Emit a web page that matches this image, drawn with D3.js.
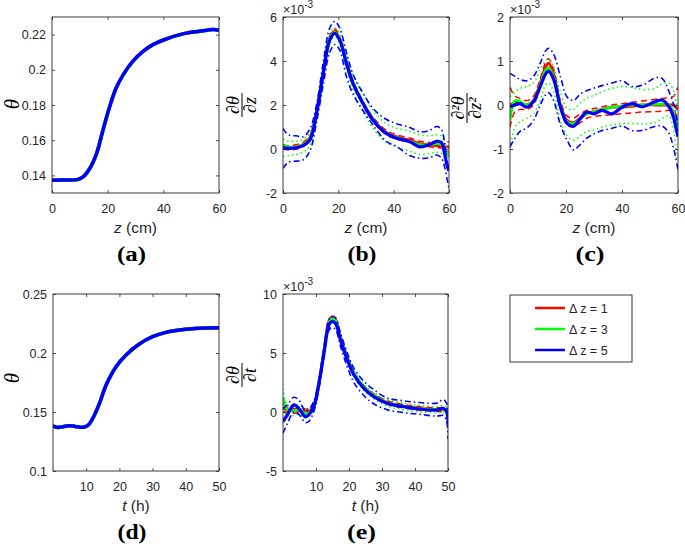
<!DOCTYPE html>
<html><head><meta charset="utf-8">
<script src="https://cdn.jsdelivr.net/npm/d3@7"></script>
<style>body{margin:0;background:#fff} svg{display:block}</style>
</head><body><svg id="c" width="685" height="544"></svg>
<script>
// ---------- DATA ----------
// (a) theta vs z
const zA = [0,5,9,11,13.5,16,18.3,20.7,23,25.5,29,32.7,36.3,41,47,53,58,60];
const thetaZ = [0.1373,0.1374,0.1376,0.139,0.1438,0.1524,0.1657,0.179,0.1895,0.197,0.2048,0.2105,0.2143,0.2175,0.2204,0.2219,0.2229,0.2225];
const yTicksA = [0.14,0.16,0.18,0.2,0.22];
const xTicksZ = [0,20,40,60];

// (b) dtheta/dz (x1e-3)
const zB = [0,2,4.8,7.2,9.7,12.1,14.5,16.9,18.7,20.5,22.9,25.3,28.9,32.5,37.3,41,45.8,49.4,53,55.5,57.2,58.4,59.2,60];
const redB   = [0.1,0.05,0.1,0.2,0.5,1.7,3.5,5.05,5.35,5.0,3.95,3.0,2.1,1.35,0.75,0.55,0.4,0.25,0.2,0.15,0.15,0.1,0.1,0.1];
const redBup = [0.2,0.15,0.2,0.3,0.6,1.8,3.6,5.15,5.45,5.1,4.05,3.1,2.2,1.45,0.85,0.65,0.5,0.35,0.3,0.25,0.25,0.25,0.3,0.35];
const redBlo = [0.0,-0.05,0.0,0.1,0.4,1.6,3.4,4.95,5.25,4.9,3.85,2.9,2.0,1.25,0.65,0.45,0.3,0.15,0.1,0.05,0.05,-0.05,-0.1,-0.15];
const greenB   = [0.15,0.1,0.1,0.2,0.45,1.65,3.45,5.0,5.3,5.0,3.95,3.0,2.1,1.35,0.72,0.52,0.35,0.2,0.2,0.25,0.2,0.0,-0.2,-0.35];
const greenBup = [0.45,0.35,0.35,0.45,0.75,1.9,3.7,5.25,5.5,5.25,4.25,3.35,2.5,1.75,1.15,0.95,0.8,0.65,0.6,0.65,0.6,0.3,0.05,-0.1];
const greenBlo = [-0.35,-0.3,-0.25,-0.15,0.15,1.4,3.2,4.75,5.1,4.75,3.65,2.65,1.7,0.95,0.3,0.1,-0.1,-0.25,-0.2,-0.15,-0.2,-0.4,-0.55,-0.7];
const blueB   = [0.05,0.03,0.05,0.15,0.4,1.6,3.4,4.95,5.26,4.95,3.9,2.98,2.07,1.32,0.71,0.49,0.33,0.1,0.2,0.35,0.3,-0.2,-0.7,-1.0];
const blueBup = [0.94,0.64,0.6,0.55,0.9,2.0,3.9,5.5,5.8,5.5,4.4,3.4,2.55,1.85,1.35,1.15,0.98,0.78,0.85,1.02,0.9,0.3,-0.5,-0.9];
const blueBlo = [-0.88,-0.6,-0.55,-0.5,-0.1,1.2,2.9,4.4,4.75,4.5,3.3,2.5,1.75,1.1,0.35,0.12,-0.3,-0.42,-0.4,-0.27,-0.4,-0.8,-1.3,-1.8];
const yTicksB = [-2,0,2,4,6];

// (c) d2theta/dz2 (x1e-3)
const zC = [0,1.8,3.6,6,8.4,10.8,12.6,13.8,15.6,18,20.4,22.7,25.1,27.5,29.9,32.9,36.5,40,43.6,47.3,52,54.4,56.8,58.5,59.2,60];
const redC   = [0.0,0.05,0.05,0.0,0.1,0.5,0.85,0.95,0.7,0.0,-0.35,-0.4,-0.3,-0.2,-0.15,-0.1,-0.05,-0.05,-0.03,0.0,0.0,0.0,0.0,0.0,-0.05,-0.1];
const redCup = [0.4,0.2,0.15,0.1,0.2,0.6,0.95,1.05,0.8,0.1,-0.25,-0.3,-0.2,-0.12,-0.08,-0.04,0.0,0.03,0.06,0.09,0.13,0.15,0.17,0.2,0.3,0.4];
const redClo = [-0.5,-0.15,-0.1,-0.1,0.0,0.4,0.75,0.85,0.6,-0.1,-0.45,-0.5,-0.4,-0.3,-0.26,-0.24,-0.22,-0.2,-0.18,-0.16,-0.15,-0.14,-0.12,-0.15,-0.2,-0.6];
const greenC   = [-0.35,0.1,0.08,0.0,0.1,0.45,0.78,0.85,0.62,-0.02,-0.38,-0.42,-0.3,-0.2,-0.15,-0.1,-0.05,-0.03,0.0,0.0,0.02,0.02,0.0,-0.2,-0.35,-0.6];
const greenCup = [0.19,0.3,0.38,0.42,0.5,0.8,1.0,1.05,0.85,0.3,-0.08,-0.1,0.05,0.15,0.22,0.3,0.38,0.42,0.4,0.35,0.38,0.48,0.5,0.3,0.1,-0.1];
const greenClo = [-0.98,-0.5,-0.38,-0.3,-0.2,0.1,0.45,0.5,0.3,-0.35,-0.7,-0.8,-0.7,-0.6,-0.57,-0.5,-0.45,-0.42,-0.42,-0.43,-0.4,-0.3,-0.25,-0.6,-0.95,-1.3];
const blueC   = [-0.04,0.0,0.03,-0.05,0.08,0.42,0.69,0.77,0.58,-0.04,-0.42,-0.48,-0.31,-0.16,-0.2,-0.12,-0.2,-0.05,0.03,-0.04,0.08,0.11,-0.04,-0.3,-0.5,-0.72];
const blueCup = [0.72,0.65,0.58,0.55,0.65,0.95,1.22,1.29,1.15,0.65,0.18,0.1,0.25,0.33,0.38,0.44,0.5,0.55,0.42,0.45,0.62,0.6,0.3,0.0,-0.2,-0.45];
const blueClo = [-0.95,-0.75,-0.6,-0.52,-0.35,0.0,0.22,0.28,0.1,-0.45,-0.8,-1.02,-0.9,-0.75,-0.66,-0.58,-0.53,-0.48,-0.58,-0.58,-0.48,-0.48,-0.65,-1.0,-1.2,-1.48];
const yTicksC = [-2,-1,0,1,2];

// (d) theta vs t
const tD = [0,1.2,3,4.7,6.7,9,10.5,12,14,16,19,22,26,30,34,40,46,50];
const thetaT = [0.1384,0.137,0.1375,0.1384,0.1378,0.137,0.1386,0.1447,0.1574,0.1729,0.1884,0.1983,0.2076,0.2138,0.2175,0.2201,0.2212,0.2214];
const yTicksD = [0.1,0.15,0.2,0.25];
const xTicksT = [10,20,30,40,50];

// (e) dtheta/dt (x1e-3)
const tE = [0,1.3,3.3,4.8,6.8,7.8,9.3,10.9,12.4,13.9,14.7,15.9,17.4,19.5,21.5,24.5,27.5,31.5,36.5,41.5,46.6,48.6,49.6,50];
const redE   = [0.3,0.2,0.1,0.1,0.05,0.1,0.4,2.5,5.2,7.7,7.95,7.8,6.4,4.6,3.25,2.1,1.4,0.8,0.5,0.3,0.2,0.2,0.15,0.0];
const redEup = [0.6,0.4,0.3,0.3,0.25,0.3,0.6,2.6,5.3,7.85,8.1,7.95,6.55,4.75,3.4,2.25,1.55,0.95,0.65,0.45,0.35,0.4,0.35,0.3];
const redElo = [0.0,0.0,-0.1,-0.1,-0.15,-0.1,0.2,2.4,5.1,7.55,7.8,7.65,6.25,4.45,3.1,1.95,1.25,0.65,0.35,0.15,0.05,0.0,-0.05,-0.3];
const greenE   = [1.2,0.2,0.1,0.2,-0.1,-0.1,0.4,2.45,5.1,7.55,7.85,7.7,6.3,4.55,3.25,2.1,1.38,0.78,0.48,0.28,0.2,0.25,0.1,-0.5];
const greenEup = [2.0,0.6,0.5,0.6,0.2,0.2,0.6,2.65,5.3,7.75,8.05,7.9,6.55,4.8,3.5,2.35,1.65,1.05,0.75,0.55,0.45,0.55,0.4,-0.1];
const greenElo = [0.3,-0.3,-0.3,-0.2,-0.5,-0.4,0.2,2.25,4.9,7.35,7.65,7.5,6.05,4.3,3.0,1.85,1.12,0.5,0.2,0.0,-0.05,-0.05,-0.2,-1.0];
const blueE   = [-0.82,-0.25,0.6,0.31,-0.4,-0.25,0.45,2.43,4.97,7.37,7.65,7.5,6.1,4.4,3.14,2.0,1.3,0.74,0.45,0.25,0.17,0.31,0.0,-0.96];
const blueEup = [0.3,0.6,1.25,1.0,0.1,0.2,0.9,2.8,5.3,7.8,8.1,8.0,6.7,5.0,3.7,2.6,1.9,1.2,0.95,0.8,0.75,1.05,0.7,-0.3];
const blueElo = [-1.8,-1.0,0.0,-0.2,-0.9,-0.8,0.0,2.0,4.6,6.9,7.15,7.0,5.6,3.8,2.5,1.4,0.7,0.2,-0.05,-0.2,-0.35,-0.3,-0.8,-2.3];
const yTicksE = [-5,0,5,10];

const legendLabels = ["\u0394 z = 1","\u0394 z = 3","\u0394 z = 5"];
const colors = ["#ff0000","#00ff00","#0000ff"];

// ---------- DRAW ----------
const svg = d3.select("#c");
const AX = "#262626";
const SANS = "'Liberation Sans', Arial, Helvetica, sans-serif";
const SERIF = "'Liberation Serif', 'Times New Roman', serif";

function bands(x, r, ru, rl, g, gu, gl, b, bu, bl){
  return [
    {x, y: ru, c: colors[0], w: 1.5, dash: "6,4"},
    {x, y: rl, c: colors[0], w: 1.5, dash: "6,4"},
    {x, y: r, c: colors[0], w: 2.8},
    {x, y: gu, c: colors[1], w: 1.5, dash: "1.5,3"},
    {x, y: gl, c: colors[1], w: 1.5, dash: "1.5,3"},
    {x, y: g, c: colors[1], w: 2.8},
    {x, y: bu, c: colors[2], w: 1.6, dash: "6,3,1.5,3"},
    {x, y: bl, c: colors[2], w: 1.6, dash: "6,3,1.5,3"},
    {x, y: b, c: colors[2], w: 3.2}
  ];
}

const panels = [
  {name:"a", L:52, R:219, T:17, B:193, xd:[0,60], yd:[0.13,0.23], xt:xTicksZ, yt:yTicksA,
   series:[{x:zA,y:thetaZ,c:colors[0],w:3.5},{x:zA,y:thetaZ,c:colors[1],w:3.5},{x:zA,y:thetaZ,c:colors[2],w:3.5}],
   xvar:"z", xunit:" (cm)", cap:"(a)", ylab:"theta", ylx:12, yly:104},
  {name:"b", L:283, R:449, T:17, B:193, xd:[0,60], yd:[-2,6], xt:xTicksZ, yt:yTicksB,
   series:bands(zB,redB,redBup,redBlo,greenB,greenBup,greenBlo,blueB,blueBup,blueBlo),
   xvar:"z", xunit:" (cm)", cap:"(b)", ylab:"dz", ylx:242, yly:105, exp:true},
  {name:"c", L:510, R:678, T:17, B:193, xd:[0,60], yd:[-2,2], xt:xTicksZ, yt:yTicksC,
   series:bands(zC,redC,redCup,redClo,greenC,greenCup,greenClo,blueC,blueCup,blueClo),
   xvar:"z", xunit:" (cm)", cap:"(c)", ylab:"dz2", ylx:467, yly:108, exp:true},
  {name:"d", L:53, R:219, T:294, B:471, xd:[0,50], yd:[0.1,0.25], xt:xTicksT, yt:yTicksD,
   series:[{x:tD,y:thetaT,c:colors[0],w:3.5},{x:tD,y:thetaT,c:colors[1],w:3.5},{x:tD,y:thetaT,c:colors[2],w:3.5}],
   xvar:"t", xunit:" (h)", cap:"(d)", ylab:"theta", ylx:12, yly:378},
  {name:"e", L:283, R:448, T:294, B:471, xd:[0,50], yd:[-5,10], xt:xTicksT, yt:yTicksE,
   series:bands(tE,redE,redEup,redElo,greenE,greenEup,greenElo,blueE,blueEup,blueElo),
   xvar:"t", xunit:" (h)", cap:"(e)", ylab:"dt", ylx:242, yly:375, exp:true}
];

const defs = svg.append("defs");

panels.forEach(p => {
  const x = d3.scaleLinear().domain(p.xd).range([p.L, p.R]);
  const y = d3.scaleLinear().domain(p.yd).range([p.B, p.T]);
  const g = svg.append("g");
  defs.append("clipPath").attr("id", "clip" + p.name).append("rect")
    .attr("x", p.L).attr("y", p.T).attr("width", p.R - p.L).attr("height", p.B - p.T);
  const lg = g.append("g").attr("clip-path", `url(#clip${p.name})`);
  const line = d3.line().x(d => x(d[0])).y(d => y(d[1])).curve(d3.curveCatmullRom.alpha(0.5));
  p.series.forEach(s => {
    lg.append("path").datum(d3.zip(s.x, s.y)).attr("d", line)
      .attr("fill", "none").attr("stroke", s.c).attr("stroke-width", s.w)
      .attr("stroke-dasharray", s.dash || null).attr("stroke-linejoin", "round");
  });

  const fmt = d => String(d);
  const axB = g.append("g").attr("transform", `translate(0,${p.B})`)
    .call(d3.axisBottom(x).tickValues(p.xt).tickSize(-3).tickPadding(11).tickFormat(fmt));
  const axT = g.append("g").attr("transform", `translate(0,${p.T})`)
    .call(d3.axisTop(x).tickValues(p.xt).tickSize(-3).tickFormat(""));
  const axL = g.append("g").attr("transform", `translate(${p.L},0)`)
    .call(d3.axisLeft(y).tickValues(p.yt).tickSize(-3).tickPadding(6).tickFormat(fmt));
  const axR = g.append("g").attr("transform", `translate(${p.R},0)`)
    .call(d3.axisRight(y).tickValues(p.yt).tickSize(-3).tickFormat(""));
  [axB, axT, axL, axR].forEach(a => {
    a.select(".domain").remove();
    a.selectAll("line").attr("stroke", AX).attr("stroke-width", 0.8);
    a.selectAll("text").attr("fill", AX).style("font-family", SANS).style("font-size", "12.5px");
  });
  g.append("rect").attr("x", p.L).attr("y", p.T).attr("width", p.R - p.L).attr("height", p.B - p.T)
    .attr("fill", "none").attr("stroke", AX).attr("stroke-width", 0.9);

  // x label
  const cx = (p.L + p.R) / 2;
  const xl = g.append("text").attr("x", cx).attr("y", p.B + 40).attr("text-anchor", "middle")
    .attr("fill", AX).style("font-family", SANS).style("font-size", "15.5px");
  xl.append("tspan").style("font-style", "italic").text(p.xvar);
  xl.append("tspan").text(p.xunit);

  // caption
  g.append("text").attr("x", cx - 4).attr("y", p.B + 68).attr("text-anchor", "middle")
    .attr("fill", "#000").style("font-family", SERIF).style("font-weight", "bold").style("font-size", "20px")
    .attr("textLength", 29).attr("lengthAdjust", "spacingAndGlyphs")
    .text(p.cap);

  // exponent
  if (p.exp) {
    const et = g.append("text").attr("x", p.L).attr("y", p.T - 3).attr("fill", AX)
      .style("font-family", SANS).style("font-size", "12.5px");
    et.append("tspan").text("\u00d710");
    et.append("tspan").attr("dy", -6).style("font-size", "10px").text("-3");
  }

  // y label
  const yg = g.append("g").attr("transform", `translate(${p.ylx},${p.yly}) rotate(-90)`)
    .style("font-family", SERIF).style("font-style", "italic").attr("fill", "#000");
  if (p.ylab === "theta") {
    yg.append("text").attr("text-anchor", "middle").attr("y", 7).style("font-size", "21px").text("\u03b8");
  } else {
    const num = p.ylab === "dz2" ? "\u2202\u00b2\u03b8" : "\u2202\u03b8";
    const den = p.ylab === "dz2" ? "\u2202z\u00b2" : p.ylab === "dz" ? "\u2202z" : "\u2202t";
    const fw = p.ylab === "dz2" ? 30 : 24;
    yg.append("text").attr("text-anchor", "middle").attr("y", -3.5).style("font-size", "18px").text(num);
    yg.append("line").attr("x1", -fw / 2).attr("x2", fw / 2).attr("y1", 0).attr("y2", 0)
      .attr("stroke", "#000").attr("stroke-width", 1);
    yg.append("text").attr("text-anchor", "middle").attr("y", 14).style("font-size", "18px").text(den);
  }
});

// legend
const lgd = svg.append("g");
lgd.append("rect").attr("x", 510).attr("y", 295).attr("width", 122).attr("height", 67)
  .attr("fill", "#fff").attr("stroke", AX).attr("stroke-width", 0.9);
legendLabels.forEach((t, i) => {
  const yy = 308 + i * 21;
  lgd.append("line").attr("x1", 535).attr("x2", 565).attr("y1", yy).attr("y2", yy)
    .attr("stroke", colors[i]).attr("stroke-width", 2.5);
  lgd.append("text").attr("x", 569).attr("y", yy + 4.5).attr("fill", AX)
    .style("font-family", SANS).style("font-size", "12.5px").text(t);
});
</script></body></html>
